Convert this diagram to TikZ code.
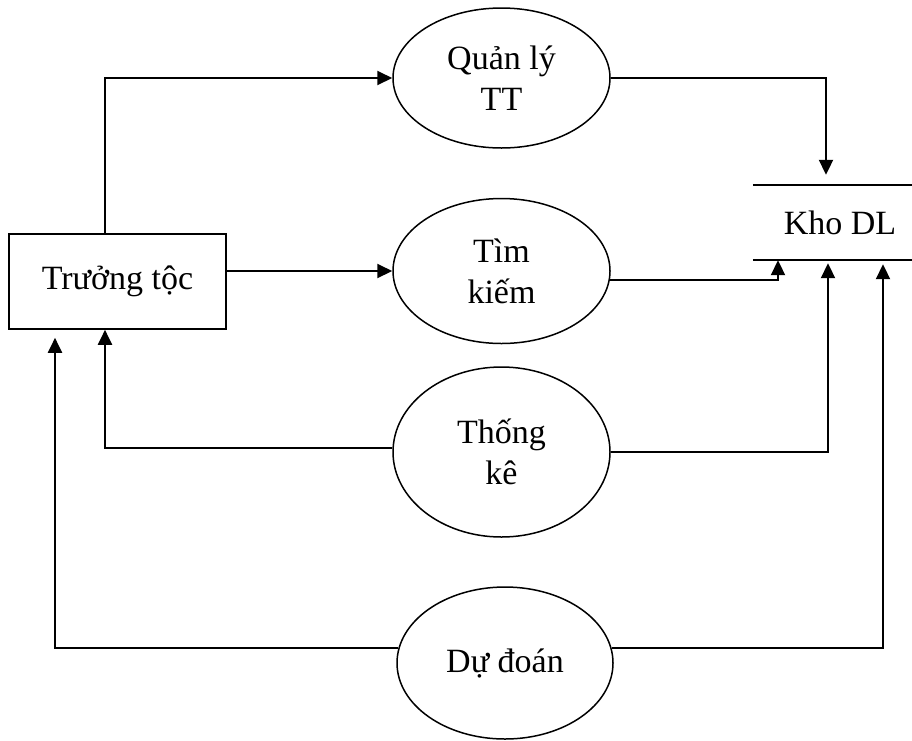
\documentclass[tikz,border=0pt]{standalone}
\usepackage{fontspec}
\setmainfont{Liberation Serif}
\usetikzlibrary{arrows.meta,shapes.geometric}
\begin{document}
\begin{tikzpicture}[x=1pt,y=-1pt,
  every node/.style={font=\fontsize{34}{41}\selectfont, align=center, inner sep=0pt},
  process/.style={ellipse, draw, line width=1.5pt, minimum width=217pt},
  entity/.style={rectangle, draw, line width=1.6pt, minimum width=217pt, minimum height=95pt},
  store/.style={rectangle, minimum width=159pt, minimum height=75pt},
  flow/.style={line width=2pt, -{Triangle[length=15pt,width=14pt]}},
  storeline/.style={line width=1.6pt}]
\useasboundingbox (0,0) rectangle (912,740);

% external entity
\node[entity] (tt) at (117.5,281.5) {Trưởng tộc};

% processes
\node[process, minimum height=140pt] (ql)  at (501.5,78)  {Quản lý\\TT};
\node[process, minimum height=145pt] (tk)  at (501.5,271) {Tìm\\kiếm};
\node[process, minimum height=170pt] (tke) at (501.5,452) {Thống\\kê};
\node[process, minimum height=152pt, minimum width=216pt] (dd) at (505,663) {Dự đoán};

% data store
\node[store, label={[xshift=7.5pt]center:Kho DL}] (kho) at (832.5,222.5) {};
\draw[storeline] (kho.north west) -- (kho.north east);
\draw[storeline] (kho.south west) -- (kho.south east);

% flows from the entity
\draw[flow] ([xshift=-12.5pt]tt.north) |- (ql.west);
\draw[flow] (tt.east |- tk.west) -- (tk.west);

% flows into the data store
\draw[flow, shorten >=10pt] (ql.east) -| ([xshift=-6.5pt]kho.north);
\draw[flow] (tk.-5.3) -| ([xshift=-54.5pt]kho.south);
\draw[flow, shorten >=3pt] (tke.east) -| ([xshift=-4.5pt]kho.south);
\draw[flow, shorten >=4pt] (dd.8) -| ([xshift=50.5pt]kho.south);

% flows back to the entity
\draw[flow] ([yshift=4pt]tke.west) -| ([xshift=-12.5pt]tt.south);
\draw[flow, shorten >=8pt] (dd.172) -| ([xshift=-62.5pt]tt.south);
\end{tikzpicture}
\end{document}
